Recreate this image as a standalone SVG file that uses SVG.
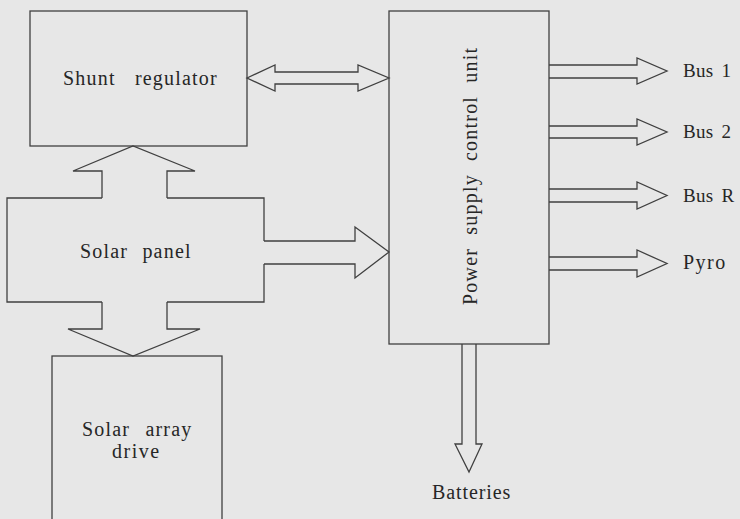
<svg xmlns="http://www.w3.org/2000/svg" width="740" height="519" viewBox="0 0 740 519">
<style>
.bx{fill:none;stroke:#404040;stroke-width:1.3}
.ar{fill:none;stroke:#404040;stroke-width:1.3;stroke-linejoin:miter}
.t{font-family:"Liberation Serif","Times New Roman",serif;font-size:20px;fill:#262626;letter-spacing:1.2px}
.b{font-size:19px;letter-spacing:0.3px;word-spacing:3px}
</style>
<rect x="0" y="0" width="740" height="519" fill="#e7e7e7"/>
<g id="shunt-regulator">
<rect class="bx" x="30" y="11" width="217" height="135"/>
<text class="t" x="63" y="85" style="word-spacing:13px">Shunt regulator</text>
</g>
<g id="solar-panel">
<path class="bx" d="M102,198 H7 V302 H102 M167,302 H264 V264 M264,241 V198 H167"/>
<text class="t" x="80" y="258" style="word-spacing:8px">Solar panel</text>
</g>
<g id="solar-array-drive">
<rect class="bx" x="52" y="356" width="170" height="200"/>
<text class="t" x="82" y="436" style="word-spacing:9px">Solar array</text>
<text class="t" x="112" y="458" style="letter-spacing:1.5px">drive</text>
</g>
<g id="pscu">
<rect class="bx" x="389" y="11" width="160" height="333"/>
<text class="t" transform="translate(477,305) rotate(-90)" x="0" y="0" style="word-spacing:7px">Power supply control unit</text>
</g>
<g id="outputs">
<text class="t b" x="683" y="77">Bus 1</text>
<text class="t b" x="683" y="138">Bus 2</text>
<text class="t b" x="683" y="202">Bus R</text>
<text class="t" x="683" y="269" style="letter-spacing:1.5px">Pyro</text>
<text class="t" x="432" y="499" style="letter-spacing:0.9px">Batteries</text>
</g>
<g id="connectors">
<path class="ar" d="M247,78 L275,65 V72 H358 V65 L389,78 L358,91 V84 H275 V91 Z"/>
<path class="ar" d="M102,198 V171 H73 L133,146 L195,171 H167 V198"/>
<path class="ar" d="M102,302 V329 H68 L133,356 L200,329 H167 V302"/>
<path class="ar" d="M264,241 H355 V227 L389,252 L355,278 V264 H264"/>
<path class="ar" d="M549,65 H637 V58 L667,71 L637,84 V78 H549"/>
<path class="ar" d="M549,126 H637 V119 L667,132 L637,145 V138 H549"/>
<path class="ar" d="M549,189 H637 V182 L667,195.5 L637,209 V202 H549"/>
<path class="ar" d="M549,257 H637 V250 L667,263.5 L637,277 V270 H549"/>
<path class="ar" d="M462,344 V444 H455 L469,472 L482,444 H476 V344"/>
</g>
</svg>
